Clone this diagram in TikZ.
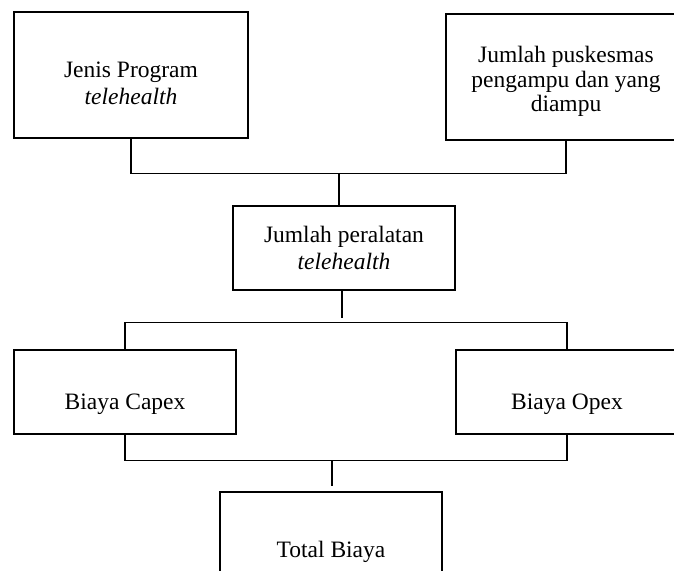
\documentclass[tikz,border=0pt]{standalone}
\usepackage{fontspec}
\setmainfont{Liberation Serif}
\usetikzlibrary{positioning}

\tikzset{
  box/.style={draw, line width=0.6pt, inner sep=0pt, align=center,
    minimum width=111pt, minimum height=42pt,
    font=\fontsize{11.75}{13.5}\selectfont},
  link/.style={line width=0.6pt}
}
% struts push the text a little below the middle of its box
\newcommand{\lowtwo}{\rule{0pt}{16.5pt}}
\newcommand{\lowone}{\rule{0pt}{20.5pt}}

\begin{document}
\begin{tikzpicture}[x=0.5pt, y=-0.5pt]
\useasboundingbox (0,0) rectangle (674,571);
\clip (0,0) rectangle (674,571);

% top row
\node[box, minimum width=117pt, minimum height=63pt] (prog) at (131,75)
  {\lowtwo Jenis Program\\\textit{telehealth}};
\node[box, minimum width=120pt, minimum height=63pt,
  font=\fontsize{11.75}{12.25}\selectfont] (pusk) at (566,77)
  {\rule{0pt}{13pt}Jumlah puskesmas\\pengampu dan yang\\diampu};

% middle
\node[box] (alat) at (344,248) {Jumlah peralatan\\\textit{telehealth}};

% cost boxes
\node[box] (capex) at (125,392) {\lowone Biaya Capex};
\node[box] (opex) at (567,392) {\lowone Biaya Opex};

\node[box, minimum height=48pt] (total) at (331,540) {\lowone Total Biaya};

% connectors
\coordinate (barA) at (339,173);
\coordinate (barB) at (342,318);
\coordinate (barC) at (332,460);

\draw[link] (prog.south) -- ++(0,35) -| (pusk.south);
\draw[link] (barA) -- (barA |- alat.north);

\draw[link] (barB |- alat.south) -- (barB);
\draw[link] (capex.north) -- ++(0,-27) -| (opex.north);

\draw[link] (capex.south) -- ++(0,26) -| (opex.south);
\draw[link, shorten >=2.5pt] (barC) -- (barC |- total.north);
\end{tikzpicture}
\end{document}
